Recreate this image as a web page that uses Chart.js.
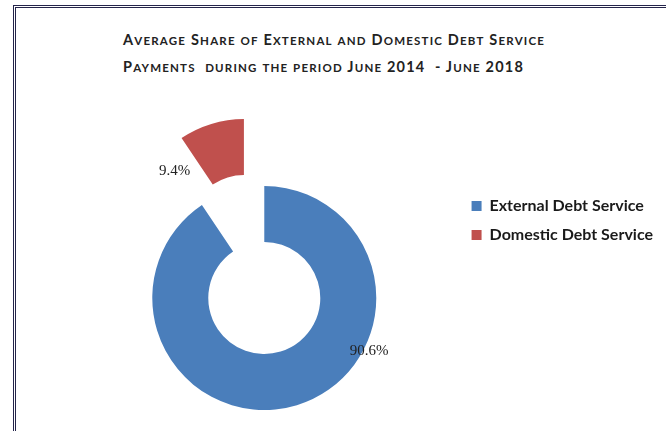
<!DOCTYPE html>
<html>
<head>
<meta charset="utf-8">
<script src="https://cdn.jsdelivr.net/npm/chart.js@4.4.1/dist/chart.umd.min.js"></script>
<style>
  html, body { margin: 0; padding: 0; background: #fff; }
  body { width: 666px; height: 431px; position: relative; overflow: hidden; }
  #frame { position: absolute; left: 13px; top: 5px; width: 700px; height: 500px;
           border-left: 3px double #24244a; border-top: 3px double #24244a; }
  #title { position: absolute; left: 123px; top: 27px; font-family: Lato, "Open Sans", sans-serif;
           font-weight: bold; font-size: 14.5px; line-height: 26px; letter-spacing: 1.2px;
           color: #222; white-space: pre; }
  #title .sc { font-size: 11.5px; text-transform: uppercase; }
  #chart { position: absolute; left: 0; top: 0; }
</style>
</head>
<body>
<div id="frame"></div>
<div id="title"></div>
<canvas id="chart" width="666" height="431"></canvas>
<script>
// Average share of debt service payments, June 2014 - June 2018 (%)
const titleLines = ['Average Share of External and Domestic Debt Service',
                    'Payments  during the period June 2014  - June 2018'];
const categories = ['External Debt Service', 'Domestic Debt Service'];
const shares = [90.6, 9.4];
const sliceColors = ['#4a7ebb', '#c0504d'];
// how far each slice is pulled out of the ring (px)
const explode = [0, 70];
// where each percent label sits: degrees clockwise from 12 o'clock, and radius as share of outer radius
const labelAngle = [117, -49];
const labelRadius = [1.05, 0.82];

// small caps title: lower case runs set smaller and upper-cased
const titleEl = document.getElementById('title');
titleLines.forEach((line, n) => {
    if (n > 0) titleEl.appendChild(document.createTextNode('\n'));
    line.split(/([a-z]+)/).forEach(part => {
        if (!part) return;
        if (/^[a-z]+$/.test(part)) {
            const span = document.createElement('span');
            span.className = 'sc';
            span.textContent = part;
            titleEl.appendChild(span);
        } else {
            titleEl.appendChild(document.createTextNode(part));
        }
    });
});

function sliceShift(arc, i) {
    const mid = (arc.startAngle + arc.endAngle) / 2;
    return { dx: Math.cos(mid) * explode[i], dy: Math.sin(mid) * explode[i] };
}

// draw arcs ourselves so an exploded slice keeps its shape (plain translation, like Excel)
const explodePlugin = {
    id: 'explodeSlices',
    beforeDatasetDraw(chart, args) {
        const ctx = chart.ctx;
        args.meta.data.forEach((arc, i) => {
            const s = sliceShift(arc, i);
            ctx.save();
            ctx.translate(s.dx, s.dy);
            arc.draw(ctx);
            ctx.restore();
        });
        return false;
    }
};

const percentLabels = {
    id: 'percentLabels',
    afterDatasetsDraw(chart) {
        const ctx = chart.ctx;
        const meta = chart.getDatasetMeta(0);
        ctx.save();
        ctx.font = '15px "Liberation Serif", "DejaVu Serif", serif';
        ctx.fillStyle = '#222';
        ctx.textAlign = 'center';
        ctx.textBaseline = 'middle';
        meta.data.forEach((arc, i) => {
            const s = sliceShift(arc, i);
            const a = (labelAngle[i] - 90) * Math.PI / 180;
            const r = arc.outerRadius * labelRadius[i];
            ctx.fillText(shares[i].toFixed(1) + '%', arc.x + s.dx + Math.cos(a) * r, arc.y + s.dy + Math.sin(a) * r);
        });
        ctx.restore();
    }
};

const ctx = document.getElementById('chart').getContext('2d');

new Chart(ctx, {
    type: 'doughnut',
    data: {
        labels: categories,
        datasets: [{
            data: shares,
            backgroundColor: sliceColors,
            borderWidth: 0,
            clip: false,
        }],
    },
    options: {
        responsive: false,
        animation: false,
        radius: 112,
        cutout: '50%',
        layout: {
            padding: { top: 185, bottom: 20, left: 70, right: 3 }
        },
        plugins: {
            legend: {
                position: 'right',
                align: 'start',
                labels: {
                    boxWidth: 10,
                    boxHeight: 10,
                    padding: 13,
                    color: '#1a1a1a',
                    font: { family: 'Lato, "Open Sans", sans-serif', size: 16, weight: 'bold' },
                },
            },
            tooltip: { enabled: false },
        },
    },
    plugins: [explodePlugin, percentLabels],
});
</script>
</body>
</html>
